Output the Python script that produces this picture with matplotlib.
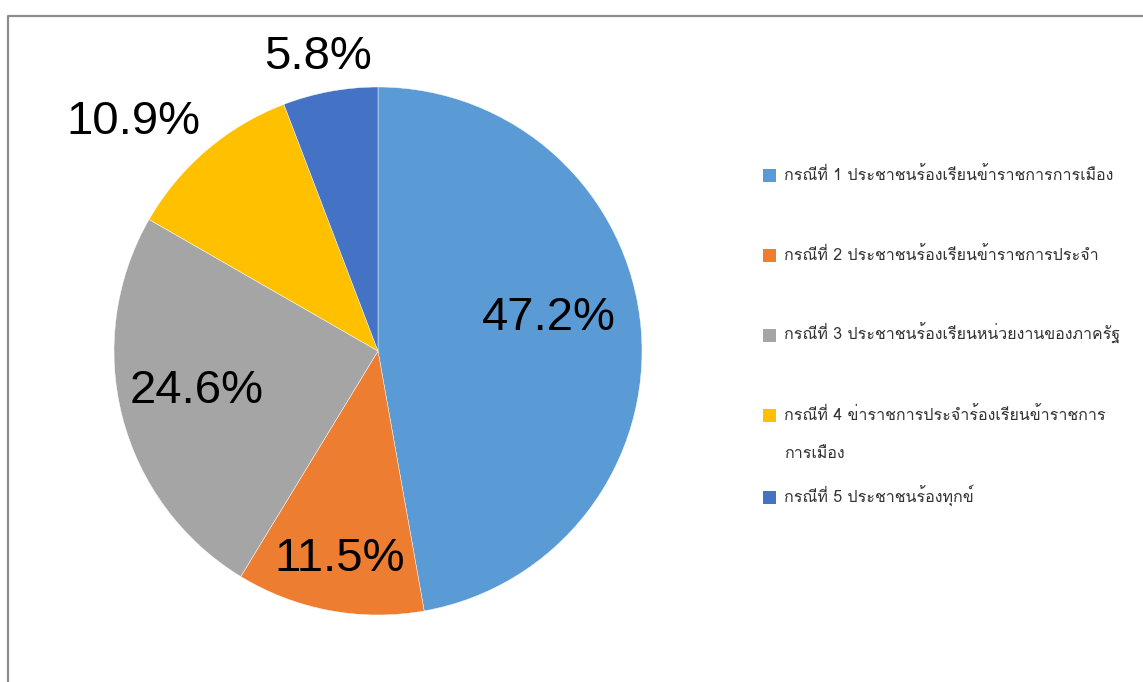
import matplotlib
matplotlib.use("Agg")
import matplotlib.pyplot as plt
import numpy as np
from matplotlib.lines import Line2D
from matplotlib.patches import Rectangle

# สัดส่วนเรื่องร้องเรียนแยกตามกรณี (%)
labels = [
    "กรณีที่ 1 ประชาชนร้องเรียนข้าราชการการเมือง",
    "กรณีที่ 2 ประชาชนร้องเรียนข้าราชการประจำ",
    "กรณีที่ 3 ประชาชนร้องเรียนหน่วยงานของภาครัฐ",
    "กรณีที่ 4 ข่าราชการประจำร้องเรียนข้าราชการ\nการเมือง",
    "กรณีที่ 5 ประชาชนร้องทุกข์",
]
shares = [47.2, 11.5, 24.6, 10.9, 5.8]
colors = ["#5b9bd5", "#ed7d31", "#a5a5a5", "#ffc000", "#4472c4"]

# where each percentage sits: distance from centre and a small turn off the mid-angle
label_dist = [0.66, 0.79, 0.70, 1.28, 1.15]
label_turn = [7.0, 0.0, -3.0, 6.0, 1.0]
label_drop = 0.012

W, H = 1143, 682
fig = plt.figure(figsize=(W / 100, H / 100), dpi=100)

# chart frame (top and left edges show)
fig.add_artist(Line2D([7.5 / W, 7.5 / W, 1.0], [0.0, 1 - 15.5 / H, 1 - 15.5 / H],
                      transform=fig.transFigure, color="#8c8c8c", lw=1.6))

cx, cy, R = 378, 351, 264
ax = fig.add_axes([(cx - R) / W, (H - cy - R) / H, 2 * R / W, 2 * R / H])
wedges, _ = ax.pie(shares, colors=colors, startangle=90, counterclock=False,
                   wedgeprops=dict(edgecolor="white", linewidth=0.3))
ax.set_xlim(-1, 1)
ax.set_ylim(-1, 1)
ax.set_aspect("equal")
ax.axis("off")

for w, v, d, t in zip(wedges, shares, label_dist, label_turn):
    ang = np.deg2rad((w.theta1 + w.theta2) / 2 + t)
    ax.text(d * np.cos(ang), d * np.sin(ang) - label_drop, f"{v:.1f}%",
            ha="center", va="center", fontsize=34,
            family=["Liberation Sans", "DejaVu Sans"], color="black", clip_on=False)

# legend: square swatch + label, wrapped labels get a tall line gap
legend_y = [175, 255, 335, 415, 497]
line_gap = 38
for lab, col, y in zip(labels, colors, legend_y):
    fig.add_artist(Rectangle((763 / W, 1 - (y + 7) / H), 13 / W, 13 / H,
                             transform=fig.transFigure, facecolor=col, edgecolor="none"))
    extra = lab.count("\n")
    fig.text(784 / W, 1 - (y + 5 + extra * line_gap) / H, lab, ha="left", va="baseline",
             fontsize=11.5, family=["Loma", "DejaVu Sans"], color="#333333",
             linespacing=2.85)

fig.savefig("out.png", dpi=100)
